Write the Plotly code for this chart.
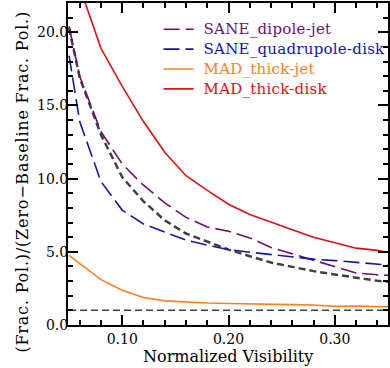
import plotly.graph_objects as go

# normalized visibility grid
vis = [0.05, 0.06, 0.08, 0.10, 0.12, 0.14, 0.16, 0.18, 0.20, 0.22,
       0.24, 0.26, 0.28, 0.30, 0.32, 0.34, 0.35]

sane_dipole_jet = [20.4, 17.0, 13.2, 11.0, 9.55, 8.35, 7.35, 6.7, 6.4, 5.95,
                   5.3, 4.85, 4.45, 4.0, 3.55, 3.43, 3.4]
sane_quad_disk = [18.4, 13.9, 9.8, 7.85, 6.9, 6.35, 5.8, 5.45, 5.15, 4.97,
                  4.8, 4.65, 4.5, 4.4, 4.3, 4.15, 4.1]
mad_thick_jet = [4.75, 4.2, 3.1, 2.37, 1.88, 1.65, 1.55, 1.5, 1.47, 1.43,
                 1.41, 1.39, 1.37, 1.27, 1.3, 1.3, 1.25]
mad_thick_disk = [25.2, 23.1, 18.9, 16.3, 13.9, 11.8, 10.2, 9.2, 8.25, 7.55,
                  7.0, 6.5, 6.0, 5.6, 5.25, 5.1, 4.95]
reference = [20.3, 16.9, 13.0, 10.1, 8.45, 7.15, 6.25, 5.68, 5.15, 4.7,
             4.27, 3.97, 3.68, 3.45, 3.22, 3.02, 2.95]
baseline = [1.0] * len(vis)

FONT = "DejaVu Serif"

fig = go.Figure()

fig.add_trace(go.Scatter(x=vis, y=reference, mode='lines', showlegend=False,
                         line=dict(color="#404040", width=2.5, dash="7px,4px")))
fig.add_trace(go.Scatter(x=vis, y=baseline, mode='lines', showlegend=False,
                         line=dict(color="#404040", width=1.5, dash="7px,4px")))

series = [
    ("SANE_dipole-jet", sane_dipole_jet, "#6E1070", "16px,6px"),
    ("SANE_quadrupole-disk", sane_quad_disk, "#1414B4", "16px,6px"),
    ("MAD_thick-jet", mad_thick_jet, "#FF7F20", "solid"),
    ("MAD_thick-disk", mad_thick_disk, "#DD1111", "solid"),
]
for name, ys, col, dash in series:
    fig.add_trace(go.Scatter(
        x=vis, y=ys, mode='lines',
        name=('<span style="color:%s;font-size:15px;letter-spacing:0.25px">'
              '&nbsp;%s</span>') % (col, name),
        line=dict(color=col, width=1.6, dash=dash)))

axis_common = dict(
    showline=True, linecolor="black", linewidth=2, mirror="allticks",
    ticks="inside", ticklen=10, tickwidth=1.5, tickcolor="black",
    showgrid=False, zeroline=False,
    tickfont=dict(family=FONT, size=14, color="black"),
)

fig.update_xaxes(range=[0.049, 0.35], dtick=0.1, tick0=0, tickformat=".2f",
                 minor=dict(dtick=0.02, tick0=0, ticks="inside", ticklen=5,
                            tickwidth=1.5, tickcolor="black"),
                 **axis_common)
fig.update_yaxes(range=[0, 22], dtick=5, tick0=0, tickformat=".1f",
                 ticklabelstandoff=-5,
                 minor=dict(dtick=1, tick0=0, ticks="inside", ticklen=5,
                            tickwidth=1.5, tickcolor="black"),
                 **axis_common)

fig.add_annotation(text='<span style="letter-spacing:0.8px">(Frac. Pol.)/(Zero\u2212Baseline Frac. Pol.)</span>',
                   xref="paper", yref="paper", x=-0.181, y=0.444,
                   textangle=-90, showarrow=False,
                   font=dict(family=FONT, size=16, color="black"))
fig.add_annotation(text="Normalized Visibility",
                   xref="paper", yref="paper", x=0.5, y=-0.099,
                   yanchor="middle", showarrow=False,
                   font=dict(family=FONT, size=16, color="black"))

fig.update_layout(
    width=390, height=368,
    margin=dict(l=68, r=2, t=3, b=43, autoexpand=False),
    plot_bgcolor="white", paper_bgcolor="white",
    legend=dict(x=0.283, y=0.965, xanchor="left", yanchor="top",
                bgcolor="rgba(0,0,0,0)",
                font=dict(family=FONT, size=13)),
)

fig.write_html("out.html", config={"displayModeBar": False},
               post_script="document.body.style.margin='0';")
